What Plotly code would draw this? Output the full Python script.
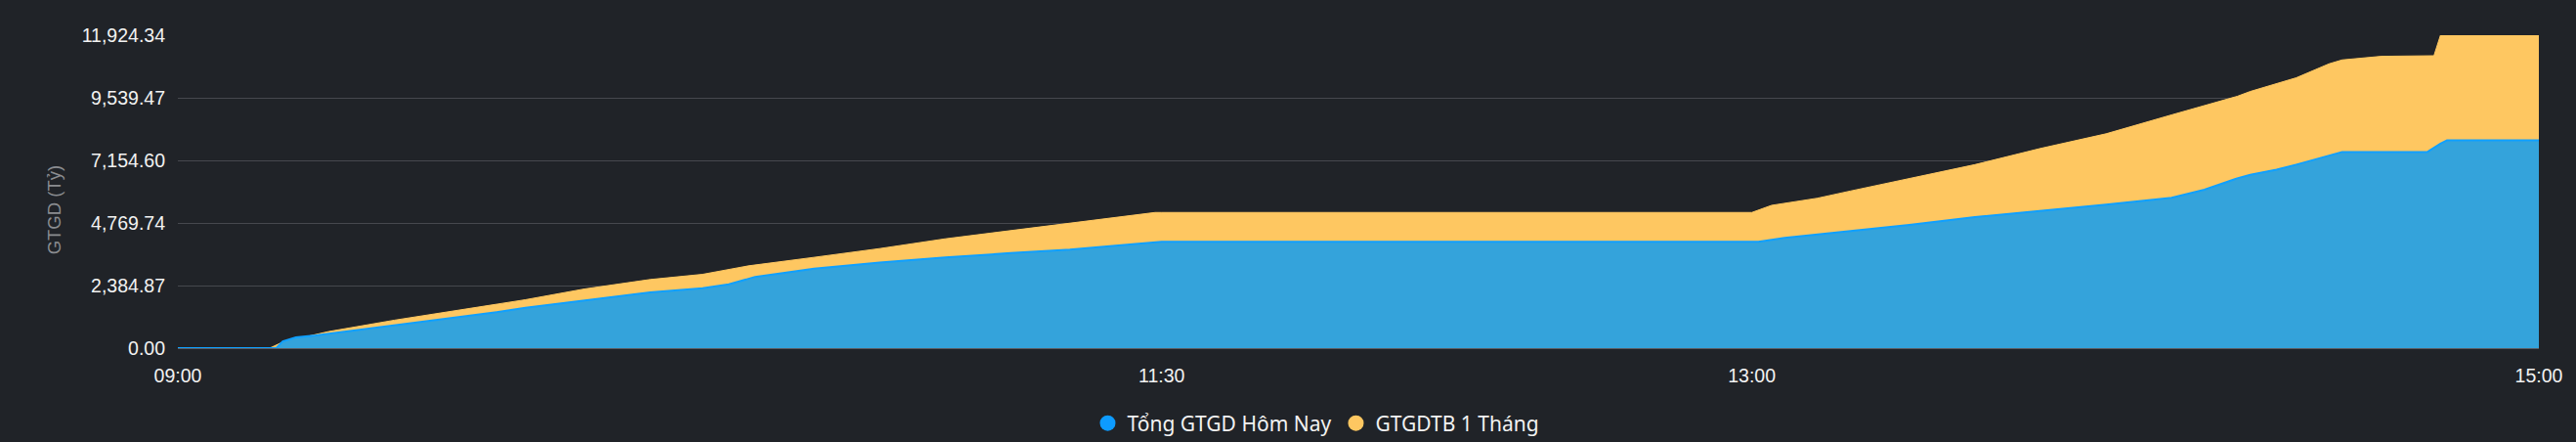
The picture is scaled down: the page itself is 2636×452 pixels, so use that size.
import plotly.graph_objects as go

DAY = "2024-01-02 "

# Tổng GTGD Hôm Nay (cumulative, tỷ)
today_times = ["09:00", "09:15", "09:16", "09:18", "09:21", "09:28", "09:38", "09:48", "09:53",
               "10:02", "10:12", "10:20", "10:24", "10:28", "10:37", "10:47", "10:57", "11:07",
               "11:16", "11:26", "11:30", "13:00", "13:01", "13:05", "13:10", "13:15", "13:24",
               "13:34", "13:44", "13:54", "14:04", "14:09", "14:14", "14:16", "14:20", "14:23",
               "14:30", "14:43", "14:45", "14:46", "15:00"]
today_values = [0, 0, 260, 409, 483, 707, 1027, 1350, 1536,
                1808, 2120, 2280, 2429, 2715, 3024, 3258, 3459, 3620,
                3756, 3966, 4054, 4054, 4054, 4202, 4325, 4460, 4697,
                4995, 5229, 5467, 5727, 6036, 6470, 6608, 6800, 6992,
                7475, 7475, 7795, 7922, 7922]

# GTGDTB 1 Tháng (cumulative 1-month average, tỷ)
avg_times = ["09:00", "09:14", "09:16", "09:23", "09:33", "09:43", "09:53", "10:02", "10:12",
             "10:20", "10:27", "10:37", "10:47", "10:57", "11:07", "11:16", "11:26", "11:29",
             "11:30", "13:00", "13:03", "13:10", "13:15", "13:24", "13:34", "13:44", "13:54",
             "14:04", "14:14", "14:16", "14:20", "14:23", "14:28", "14:30", "14:36", "14:44",
             "14:45", "15:00"]
avg_values = [0, 0, 234, 632, 1064, 1450, 1845, 2254, 2614,
              2812, 3135, 3459, 3793, 4165, 4480, 4771, 5069, 5169,
              5169, 5169, 5441, 5713, 5985, 6471, 6992, 7609, 8167,
              8888, 9595, 9781, 10090, 10301, 10833, 10982, 11120, 11142,
              11924.34, 11924.34]

y_ticks = [0.00, 2384.87, 4769.74, 7154.60, 9539.47, 11924.34]
x_ticks = ["09:00", "11:30", "13:00", "15:00"]

BG = "#202328"
BLUE_FILL = "#34a3db"
BLUE_LINE = "#10a0ff"
YELLOW = "#fec761"
tick_font = dict(family="Liberation Sans, Arial, sans-serif", size=19.5, color="#f2f2f2")

fig = go.Figure()
fig.add_trace(go.Scatter(
    x=[DAY + t for t in avg_times], y=avg_values, mode="lines", fill="tozeroy",
    line=dict(color=YELLOW, width=1), fillcolor=YELLOW, showlegend=False,
    name="GTGDTB 1 Tháng"))
fig.add_trace(go.Scatter(
    x=[DAY + t for t in today_times], y=today_values, mode="lines", fill="tozeroy",
    line=dict(color=BLUE_LINE, width=2), fillcolor=BLUE_FILL, showlegend=False,
    name="Tổng GTGD Hôm Nay"))
# legend entries with circular markers
fig.add_trace(go.Scatter(x=[None], y=[None], mode="markers", name="Tổng GTGD Hôm Nay",
                         marker=dict(color="#0d9bff", size=19, symbol="circle")))
fig.add_trace(go.Scatter(x=[None], y=[None], mode="markers", name="GTGDTB 1 Tháng",
                         marker=dict(color=YELLOW, size=19, symbol="circle")))

fig.update_layout(
    width=2636, height=452,
    paper_bgcolor=BG, plot_bgcolor=BG,
    margin=dict(l=182, r=38, t=36, b=96),
    showlegend=True,
    legend=dict(orientation="h", xref="container", yref="container", x=0.511, xanchor="center",
                y=0.042, yanchor="middle",
                font=dict(family="Noto Sans, sans-serif", size=21, color="#f2f2f2"),
                itemsizing="trace"),
    xaxis=dict(type="date", range=[DAY + "09:00", DAY + "15:00"],
               tickvals=[DAY + t for t in x_ticks], ticktext=x_ticks,
               showgrid=False, zeroline=False, showline=False,
               tickfont=tick_font, ticks="", ticklabelstandoff=14),
    yaxis=dict(range=[0, 11924.34], tickvals=y_ticks,
               ticktext=[f"{v:,.2f}" for v in y_ticks],
               showgrid=True, gridcolor="#46484e", gridwidth=1.3,
               zeroline=True, zerolinecolor="#5a5c62", zerolinewidth=1.5,
               tickfont=tick_font, ticks="", ticklabelstandoff=12),
    annotations=[dict(text="GTGD (Tỷ)", textangle=-90, xref="paper", yref="paper",
                      x=-0.0525, y=0.44, xanchor="center", yanchor="middle", showarrow=False,
                      font=dict(family="Liberation Sans, Arial, sans-serif", size=18.5,
                                color="#8a8c90"))],
)

fig.write_html("out.html", config={"displayModeBar": False},
               post_script="document.body.style.margin='0';document.body.style.background='#202328';")
